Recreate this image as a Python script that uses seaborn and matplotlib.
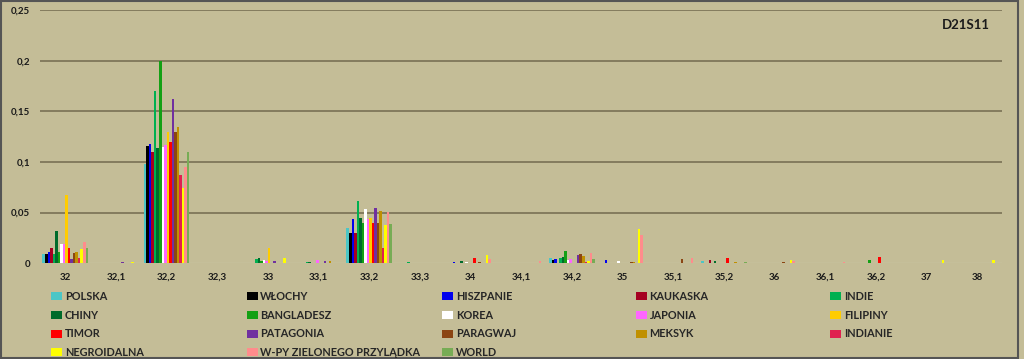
import numpy as np
import pandas as pd
import seaborn as sns
import matplotlib.pyplot as plt
from matplotlib.patches import Patch, Rectangle

# --- data ---
categories = ['32', '32,1', '32,2', '32,3', '33', '33,1', '33,2', '33,3', '34', '34,1',
              '34,2', '35', '35,1', '35,2', '36', '36,1', '36,2', '37', '38']

polska      = [0.0095, 0, 0.098, 0, 0, 0, 0.035, 0, 0, 0, 0.005, 0, 0, 0.002, 0, 0, 0, 0, 0]
wlochy      = [0.009, 0, 0.116, 0, 0, 0, 0.030, 0, 0, 0, 0.003, 0, 0, 0, 0, 0, 0, 0, 0]
hiszpanie   = [0.011, 0, 0.1175, 0, 0, 0, 0.044, 0, 0.001, 0, 0.004, 0.003, 0, 0, 0, 0, 0, 0, 0]
kaukaska    = [0.015, 0, 0.110, 0, 0, 0, 0.030, 0, 0, 0, 0, 0, 0, 0.003, 0, 0, 0, 0, 0]
indie       = [0.009, 0, 0.170, 0, 0.0045, 0.001, 0.061, 0.001, 0, 0, 0.005, 0, 0, 0, 0, 0, 0, 0, 0]
chiny       = [0.032, 0, 0.114, 0, 0.005, 0.001, 0.045, 0, 0.002, 0, 0.006, 0, 0, 0.002, 0, 0, 0, 0, 0]
bangladesz  = [0.011, 0, 0.200, 0, 0.002, 0, 0.040, 0, 0, 0, 0.012, 0, 0, 0, 0, 0, 0.003, 0, 0]
korea       = [0.019, 0, 0.115, 0, 0.003, 0, 0.053, 0, 0.001, 0, 0.003, 0.002, 0, 0, 0, 0, 0, 0, 0]
japonia     = [0.019, 0, 0.117, 0, 0.002, 0.003, 0.044, 0, 0, 0, 0.004, 0, 0, 0, 0, 0, 0, 0, 0]
filipiny    = [0.067, 0, 0.130, 0, 0.015, 0, 0.045, 0, 0, 0, 0, 0, 0, 0, 0, 0, 0, 0, 0]
timor       = [0.015, 0, 0.120, 0, 0, 0, 0.040, 0, 0.005, 0, 0, 0, 0, 0.005, 0, 0, 0.006, 0, 0]
patagonia   = [0.004, 0.001, 0.162, 0, 0.002, 0.002, 0.054, 0, 0, 0, 0.008, 0, 0, 0, 0, 0, 0, 0, 0]
paragwaj    = [0.010, 0, 0.130, 0, 0, 0, 0.040, 0, 0.001, 0, 0.009, 0.001, 0.004, 0, 0.001, 0, 0, 0, 0]
meksyk      = [0.011, 0, 0.134, 0, 0, 0.002, 0.052, 0, 0, 0, 0.007, 0.001, 0, 0.001, 0, 0, 0, 0, 0]
indianie    = [0.005, 0, 0.087, 0, 0, 0, 0.015, 0, 0, 0, 0.001, 0, 0, 0, 0, 0, 0, 0, 0]
negroidalna = [0.014, 0.001, 0.074, 0, 0.005, 0, 0.038, 0, 0.008, 0, 0.002, 0.034, 0, 0, 0.003, 0, 0, 0.003, 0.003]
wyspy       = [0.021, 0, 0.095, 0, 0, 0, 0.051, 0, 0.004, 0.002, 0.010, 0.028, 0.005, 0, 0.002, 0.001, 0, 0, 0]
world       = [0.015, 0, 0.110, 0, 0, 0, 0.039, 0, 0, 0, 0.004, 0, 0, 0.001, 0, 0, 0, 0, 0]

series_names = ['POLSKA', 'WŁOCHY', 'HISZPANIE', 'KAUKASKA', 'INDIE', 'CHINY', 'BANGLADESZ',
                'KOREA', 'JAPONIA', 'FILIPINY', 'TIMOR', 'PATAGONIA', 'PARAGWAJ', 'MEKSYK',
                'INDIANIE', 'NEGROIDALNA', 'W-PY ZIELONEGO PRZYLĄDKA', 'WORLD']
series_values = [polska, wlochy, hiszpanie, kaukaska, indie, chiny, bangladesz, korea, japonia,
                 filipiny, timor, patagonia, paragwaj, meksyk, indianie, negroidalna, wyspy, world]
colors = ['#4BC6C6', '#000000', '#0000EE', '#A50021', '#00B050', '#006B2B', '#14A014',
          '#FFFFFF', '#FF66FF', '#FFCC00', '#FF0000', '#7030A0', '#8B4513', '#C09000',
          '#E0204F', '#FFFF00', '#FF8C8C', '#77AC55']

rows = []
for name, vals in zip(series_names, series_values):
    for cat, v in zip(categories, vals):
        rows.append({'allele': cat, 'pop': name, 'freq': v})
df = pd.DataFrame(rows)

# --- plot ---
bg = '#C4BD97'
sns.set_style('white')
plt.rcParams['font.family'] = ['Lato', 'DejaVu Sans']

fig = plt.figure(figsize=(10.24, 3.59), dpi=100, facecolor=bg)
ax = fig.add_axes([0.039, 0.267, 0.940, 0.705], facecolor=bg)

sns.barplot(data=df, x='allele', y='freq', hue='pop', order=categories,
            hue_order=series_names, palette=colors, width=0.9, gap=0,
            linewidth=0, saturation=1, legend=False, ax=ax)

ax.set_ylim(0, 0.25)
ax.set_xlim(-0.5, len(categories) - 0.5)
yt = [0, 0.05, 0.1, 0.15, 0.2, 0.25]
ax.set_yticks(yt)
ax.set_yticklabels(['0', '0,05', '0,1', '0,15', '0,2', '0,25'], fontsize=7, fontweight='bold')
ax.set_xticklabels(categories, fontsize=7, fontweight='bold')
ax.tick_params(axis='both', length=0, pad=7, colors='#1A1A1A')
ax.set_xlabel('')
ax.set_ylabel('')
for y in yt[1:]:
    ax.axhline(y, color='#7F775A', linewidth=1.3, zorder=0)
ax.axhline(0, color='#E6E2D0', linewidth=0.8, zorder=0.5)
for s in ax.spines.values():
    s.set_visible(False)

ax.text(0.987, 0.94, 'D21S11', transform=ax.transAxes, ha='right', va='center',
        fontsize=9.5, fontweight='bold', color='#1A1A1A')

# legend: five columns, filled row by row
col_x = [0.050, 0.241, 0.432, 0.621, 0.811]
for c in range(5):
    idx = list(range(c, len(series_names), 5))
    handles = [Patch(facecolor=colors[i], edgecolor='none') for i in idx]
    labels = [series_names[i] for i in idx]
    fig.legend(handles, labels, loc='upper left', bbox_to_anchor=(col_x[c], 0.19),
               frameon=False, prop={'weight': 'bold', 'size': 7.8},
               handlelength=1.0, handleheight=0.75, handletextpad=0.25,
               labelspacing=0.72, borderaxespad=0, borderpad=0)

fig.patches.append(Rectangle((0.001, 0.003), 0.993, 0.994, transform=fig.transFigure,
                             fill=False, edgecolor='#555555', linewidth=1.5))

plt.savefig('out.png', dpi=100, facecolor=bg)
